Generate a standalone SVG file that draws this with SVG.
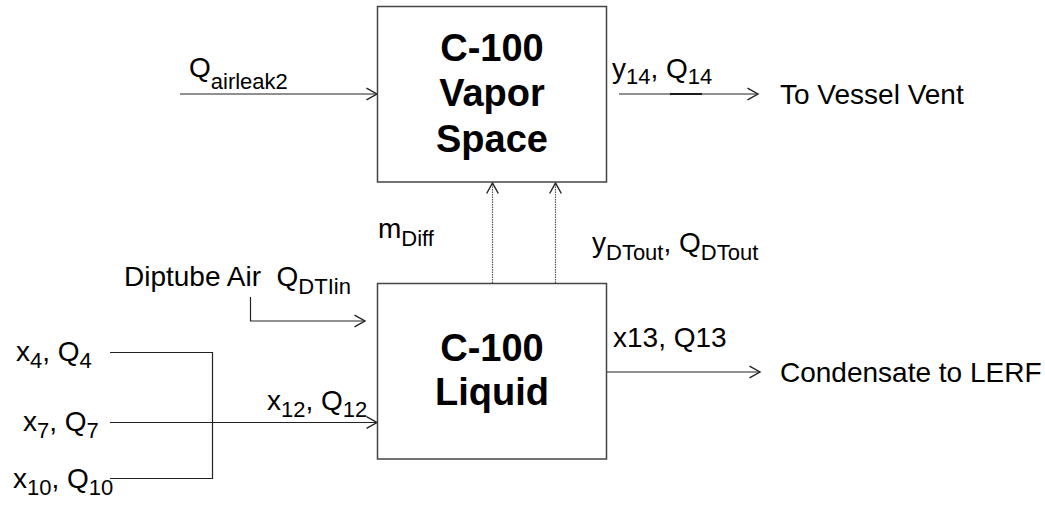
<svg xmlns="http://www.w3.org/2000/svg" width="1045" height="512" viewBox="0 0 1045 512">
<style>
text{font-family:"Liberation Sans",Arial,sans-serif;fill:#000}
.t{font-size:28px}
.s{font-size:22px}
.b{font-size:38px;font-weight:bold;text-anchor:middle}
.box{fill:#fff;stroke:#444;stroke-width:1.5}
.ln{fill:none;stroke:#222;stroke-width:1.2}
.dot{fill:none;stroke:#555;stroke-width:1.2;stroke-dasharray:1.5,1}
</style>
<defs>
<marker id="ah" markerUnits="userSpaceOnUse" markerWidth="14" markerHeight="14" refX="10" refY="6" orient="auto" viewBox="0 0 12 12">
<path d="M1,1 L10,6 L1,11" fill="none" stroke="#222" stroke-width="1.2"/>
</marker>
</defs>
<g id="connectors">
<line class="ln" x1="180" y1="94" x2="377" y2="94" marker-end="url(#ah)"/>
<line class="ln" x1="619" y1="94" x2="758" y2="94" marker-end="url(#ah)"/>
<line x1="670" y1="94" x2="702" y2="94" stroke="#000" stroke-width="1.6"/>
<line class="dot" x1="492.5" y1="283" x2="492.5" y2="183" marker-end="url(#ah)"/>
<line class="dot" x1="555.5" y1="283" x2="555.5" y2="183" marker-end="url(#ah)"/>
<polyline class="ln" points="250.5,297 250.5,321 365,321" marker-end="url(#ah)"/>
<polyline class="ln" points="110,352.5 212.5,352.5 212.5,478.5 110,478.5"/>
<line class="ln" x1="110" y1="422.5" x2="377" y2="422.5" marker-end="url(#ah)"/>
<line class="ln" x1="607" y1="372" x2="760" y2="372" marker-end="url(#ah)"/>
</g>
<g id="vapor">
<rect class="box" x="377.5" y="6.5" width="229" height="175.5"/>
<text class="b" x="492" y="61">C-100</text>
<text class="b" x="492" y="106">Vapor</text>
<text class="b" x="492" y="152">Space</text>
</g>
<g id="liquid">
<rect class="box" x="377.5" y="283.5" width="229" height="175.5"/>
<text class="b" x="492" y="361">C-100</text>
<text class="b" x="492" y="405">Liquid</text>
</g>
<g id="labels">
<text class="t" x="189" y="77">Q<tspan class="s" dy="12">airleak2</tspan></text>
<text class="t" x="612" y="78">y<tspan class="s" dy="6">14</tspan><tspan dy="-6">, Q</tspan><tspan class="s" dy="6">14</tspan></text>
<text class="t" x="780" y="104">To Vessel Vent</text>
<text class="t" x="378" y="238">m<tspan class="s" dy="8">Diff</tspan></text>
<text class="t" x="592" y="252">y<tspan class="s" dy="8">DTout</tspan><tspan dy="-8">, Q</tspan><tspan class="s" dy="8">DTout</tspan></text>
<text class="t" x="124" y="286" xml:space="preserve">Diptube Air  Q<tspan class="s" dy="8">DTIin</tspan></text>
<text class="t" x="16" y="361">x<tspan class="s" dy="7">4</tspan><tspan dy="-7">, Q</tspan><tspan class="s" dy="7">4</tspan></text>
<text class="t" x="23" y="431">x<tspan class="s" dy="7">7</tspan><tspan dy="-7">, Q</tspan><tspan class="s" dy="7">7</tspan></text>
<text class="t" x="13" y="488">x<tspan class="s" dy="7">10</tspan><tspan dy="-7">, Q</tspan><tspan class="s" dy="7">10</tspan></text>
<text class="t" x="267" y="410">x<tspan class="s" dy="7">12</tspan><tspan dy="-7">, Q</tspan><tspan class="s" dy="7">12</tspan></text>
<text class="t" x="613" y="347">x13, Q13</text>
<text class="t" x="780" y="382">Condensate to LERF</text>
</g>
</svg>
